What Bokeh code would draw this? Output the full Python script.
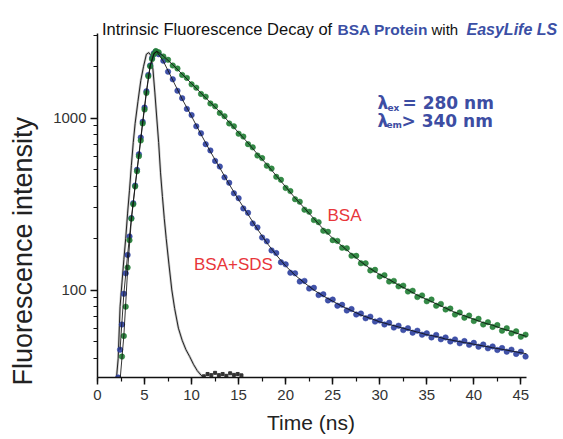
import math
from bokeh.plotting import figure
from bokeh.models import Range1d, Label, SingleIntervalTicker, FixedTicker, PrintfTickFormatter
from bokeh.embed import file_html
from bokeh.resources import INLINE

# ---------------- data ----------------
# BSA (green points)
t_bsa = [2.4, 2.6, 2.8, 3.0, 3.2, 3.4, 3.6, 3.8, 4.0, 4.2, 4.4, 4.6, 4.8, 5.0, 5.2, 5.4, 5.6, 5.8, 6.0, 6.2, 6.5,
         7.0, 7.5, 8.0, 8.5, 9.0, 9.5, 10.0, 10.5, 11.0, 11.5, 12.0, 12.5, 13.0, 13.5, 14.0, 14.5, 15.0, 15.5,
         16.0, 16.5, 17.0, 17.5, 18.0, 18.5, 19.0, 19.5, 20.0, 20.5, 21.0, 21.5, 22.0, 22.5, 23.0, 23.5, 24.0,
         24.5, 25.0, 25.5, 26.0, 26.5, 27.0, 27.5, 28.0, 28.5, 29.0, 29.5, 30.0, 30.5, 31.0, 31.5, 32.0, 32.5,
         33.0, 33.5, 34.0, 34.5, 35.0, 35.5, 36.0, 36.5, 37.0, 37.5, 38.0, 38.5, 39.0, 39.5, 40.0, 40.5, 41.0,
         41.5, 42.0, 42.5, 43.0, 43.5, 44.0, 44.5, 45.0, 45.5]
v_bsa = [30, 41, 54, 80, 135, 195, 260, 315, 400, 490, 600, 740, 930, 1120, 1400, 1750, 2000, 2200, 2350, 2450, 2410,
         2280, 2180, 2020, 1940, 1780, 1710, 1570, 1500, 1380, 1330, 1215, 1170, 1070, 1025, 930, 895, 810, 780,
         705, 675, 605, 585, 528, 508, 455, 437, 392, 376, 337, 326, 293, 285, 255, 248, 221,
         218, 195, 193, 176, 175, 158, 158, 143, 143, 130, 131, 120, 122, 112, 113, 105, 106,
         98, 99, 91, 93, 86, 88, 81, 83, 77, 78, 72, 74, 69, 71, 66, 68, 63,
         65, 61, 62.5, 58, 60, 56, 57.5, 53.5, 55]

# BSA+SDS (blue points)
t_sds = [2.2, 2.4, 2.6, 2.8, 3.0, 3.2, 3.4, 3.6, 3.8, 4.0, 4.2, 4.4, 4.6, 4.8, 5.0, 5.2, 5.4, 5.6, 5.8, 6.0, 6.2, 6.5,
         7.0, 7.5, 8.0, 8.5, 9.0, 9.5, 10.0, 10.5, 11.0, 11.5, 12.0, 12.5, 13.0, 13.5, 14.0, 14.5, 15.0, 15.5,
         16.0, 16.5, 17.0, 17.5, 18.0, 18.5, 19.0, 19.5, 20.0, 20.5, 21.0, 21.5, 22.0, 22.5, 23.0, 23.5, 24.0,
         24.5, 25.0, 25.5, 26.0, 26.5, 27.0, 27.5, 28.0, 28.5, 29.0, 29.5, 30.0, 30.5, 31.0, 31.5, 32.0, 32.5,
         33.0, 33.5, 34.0, 34.5, 35.0, 35.5, 36.0, 36.5, 37.0, 37.5, 38.0, 38.5, 39.0, 39.5, 40.0, 40.5, 41.0,
         41.5, 42.0, 42.5, 43.0, 43.5, 44.0, 44.5, 45.0, 45.5]
v_sds = [31, 45, 63, 95, 125, 160, 205, 262, 320, 405, 500, 615, 770, 950, 1150, 1430, 1780, 2020, 2230, 2380, 2430, 2350,
         2150, 1860, 1680, 1440, 1305, 1130, 1040, 895, 815, 705, 648, 563, 522, 452, 420, 365, 342, 298,
         281, 244, 231, 202, 192, 170, 164, 145, 141, 126, 125, 112, 113, 102, 103, 93.5, 94.5,
         87, 88, 81, 82, 76, 77.5, 72, 73, 68.5, 70, 65.5, 66.5, 63, 64.5, 60.5, 62, 58.5,
         60, 56.5, 58, 55, 56, 53, 54.8, 51.7, 53, 50.2, 51.6, 49, 50.5, 48, 49.3, 46.8, 48.2,
         45.8, 47, 44.8, 46, 43.8, 45, 42.5, 43.8, 41]

# fitted curves (thin dark lines)
t_fit = [2.4, 2.8, 3.2, 3.6, 4.0, 4.4, 4.8, 5.2, 5.6, 6.0, 6.3,
         7, 8, 9, 10, 11, 12, 13, 14, 15, 16, 17, 18, 19, 20, 21, 22, 23, 24, 25, 26,
         27, 28, 29, 30, 31, 32, 33, 34, 35, 36, 37, 38, 39, 40, 41, 42, 43, 44, 45, 45.6]
fit_bsa = [30, 54, 130, 255, 400, 600, 930, 1400, 2000, 2350, 2450,
           2291, 2042, 1799, 1585, 1396, 1230, 1084, 944, 822, 716, 617, 537, 462, 398, 343, 299, 260, 226, 200, 180,
           162, 146, 133, 123, 115, 107, 100, 93.3, 88.1, 83.2, 78.5, 74.1, 70.8, 67.6, 64.6, 62.4, 59.6, 57.5, 55.0, 53.7]
fit_sds = [45, 95, 160, 262, 405, 615, 950, 1430, 2020, 2380, 2430,
           2138, 1660, 1288, 1023, 804, 638, 513, 412, 335, 275, 226, 188, 160, 138, 122, 110, 100, 92.3, 86.1, 80.4,
           75.9, 71.6, 68.4, 65.3, 63.1, 61.0, 58.9, 56.9, 55.0, 53.7, 51.9, 50.7, 49.5, 48.4, 47.3, 46.2, 45.2, 44.2, 43.2, 42.6]

# instrument response (thin grey line) and its noisy floor
t_irf = [2.0, 2.2, 2.4, 2.6, 2.8, 3.0, 3.2, 3.4, 3.6, 3.8, 4.0, 4.3, 4.6, 4.9, 5.2, 5.45, 5.7, 5.9, 6.1, 6.3,
         6.5, 6.7, 6.9, 7.1, 7.3, 7.6, 7.9, 8.2, 8.6, 9.0, 9.4, 9.8, 10.2, 10.6, 11.0, 11.4, 11.8]
v_irf = [30, 40, 80, 110, 150, 200, 280, 380, 530, 720, 930, 1250, 1650, 2000, 2350, 2400, 2300, 1900, 1400, 1000,
         720, 480, 350, 260, 200, 140, 100, 78, 60, 51, 45, 41, 37, 34, 32, 30.5, 30]
t_floor = [11.3, 11.7, 12.1, 12.5, 12.9, 13.3, 13.7, 14.1, 14.5, 14.9, 15.3]
v_floor = [31.5, 32.5, 32, 33, 32, 32.5, 31.7, 32.8, 32.1, 32.5, 31.9]

# axis extents and ticks
x_axis_bounds = (0, 45.6)
y_axis_bounds = (31, 3100)
x_tick_interval = 5
y_major_ticks = [100, 1000]
y_minor_ticks = [40, 50, 60, 70, 80, 90, 200, 300, 400, 500, 600, 700, 800, 900, 2000, 3000]

# ---------------- geometry (page has no margin: canvas px == picture px) ----------------
W, H = 563, 439
AX_L, AX_R, AX_T, AX_B = 97, 526, 33, 377      # where the axes lie in the picture
FR, FT = 559, 12                                 # frame is extended so the title fits inside it
PX_PER_X = (AX_R - AX_L) / (x_axis_bounds[1] - x_axis_bounds[0])
PX_PER_DEC = (AX_B - AX_T) / math.log10(y_axis_bounds[1] / y_axis_bounds[0])
X0 = x_axis_bounds[0]
X1 = X0 + (FR - AX_L) / PX_PER_X
Y0 = y_axis_bounds[0]
Y1 = 10 ** (math.log10(Y0) + (AX_B - FT) / PX_PER_DEC)

SANS = "Liberation Sans"
NB = "\u00a0"

p = figure(width=W, height=H, y_axis_type="log", title=None,
           x_range=Range1d(X0, X1), y_range=Range1d(Y0, Y1),
           output_backend="svg", toolbar_location=None,
           min_border_left=AX_L, min_border_right=W - FR, min_border_top=FT,
           min_border_bottom=H - AX_B)
p.outline_line_color = None
p.grid.visible = False
p.background_fill_color = "white"
p.border_fill_color = "white"

p.xaxis.ticker = SingleIntervalTicker(interval=x_tick_interval, num_minor_ticks=2)
p.yaxis.ticker = FixedTicker(ticks=y_major_ticks, minor_ticks=y_minor_ticks)
p.yaxis.formatter = PrintfTickFormatter(format="%d")

for ax in (p.xaxis[0], p.yaxis[0]):
    ax.axis_line_color = "#111111"
    ax.axis_line_width = 1.5
    ax.major_tick_line_color = "#111111"
    ax.minor_tick_line_color = "#111111"
    ax.major_tick_line_width = 1.5
    ax.minor_tick_line_width = 1.2
    ax.major_tick_in = 0
    ax.major_tick_out = 7
    ax.minor_tick_in = 0
    ax.minor_tick_out = 4
    ax.major_label_text_font = SANS
    ax.major_label_text_font_size = "15px"
    ax.major_label_text_color = "#333333"
    ax.axis_label_text_font = SANS
    ax.axis_label_text_font_style = "normal"
    ax.axis_label_text_color = "#222222"

p.xaxis[0].bounds = x_axis_bounds
p.yaxis[0].bounds = y_axis_bounds

p.xaxis.axis_label = "Time (ns)" + NB * 6
p.xaxis.axis_label_text_font_size = "21px"
p.xaxis.major_label_standoff = 5
p.xaxis.axis_label_standoff = 8
p.yaxis.axis_label = "Fluorescence intensity" + NB * 15
p.yaxis.axis_label_text_font_size = "27px"
p.yaxis.major_label_standoff = 4
p.yaxis.axis_label_standoff = 12

# marks
p.line(t_irf, v_irf, line_color="#c8c8c8", line_width=2.5)
p.line(t_irf, v_irf, line_color="#222222", line_width=1)
p.scatter(t_floor, v_floor, marker="square", size=3, color="#333333")

p.scatter(t_sds, v_sds, marker="circle", size=5.5, fill_color="#2c3f9f", line_color="#2c3f9f",
          fill_alpha=0.9, line_alpha=0.5)
p.scatter(t_bsa, v_bsa, marker="circle", size=5.5, fill_color="#1f7d33", line_color="#1f7d33",
          fill_alpha=0.9, line_alpha=0.5)
p.line(t_fit, fit_sds, line_color="#111111", line_width=1, line_alpha=0.85)
p.line(t_fit, fit_bsa, line_color="#111111", line_width=1, line_alpha=0.85)


# ---------------- texts (positions in picture px, converted to data coords) ----------------
def sx(px):
    return X0 + (px - AX_L) / PX_PER_X


def sy(py):
    return 10 ** (math.log10(Y0) + (AX_B - py) / PX_PER_DEC)


def lab(px, py, text, size, color, font, style="normal", baseline="alphabetic"):
    p.add_layout(Label(x=sx(px), y=sy(py), text=text, text_font=font, text_font_size=size,
                       text_font_style=style, text_color=color, text_align="left",
                       text_baseline=baseline))


BLUE = "#3b4fa5"
lab(101.5, 28.5, "Intrinsic Fluorescence Decay of", "16.5px", "#111111", SANS)
lab(337, 28.5, "BSA Protein", "15.5px", BLUE, SANS, "bold")
lab(431, 28.5, "with", "15px", "#111111", SANS)
lab(466, 28.5, "EasyLife LS", "16px", BLUE, SANS, "bold italic")

LB = "#3d4da3"
DJ = "DejaVu Sans"
lab(377, 102.5, "\u03bb", "17px", LB, DJ, "bold")
lab(387, 107, "ex", "9px", LB, DJ, "bold")
lab(402, 102.5, "= 280 nm", "17px", LB, DJ, "bold")
lab(377, 120, "\u03bb", "17px", LB, DJ, "bold")
lab(386, 124.5, "em", "9px", LB, DJ, "bold")
lab(401, 120, "> 340 nm", "17px", LB, DJ, "bold")

RED = "#e8363a"
lab(327, 215, "BSA", "17px", RED, SANS, baseline="middle")
lab(193.5, 263.5, "BSA+SDS", "17px", RED, SANS, baseline="middle")

open("out.html", "w").write(file_html(p, INLINE))
